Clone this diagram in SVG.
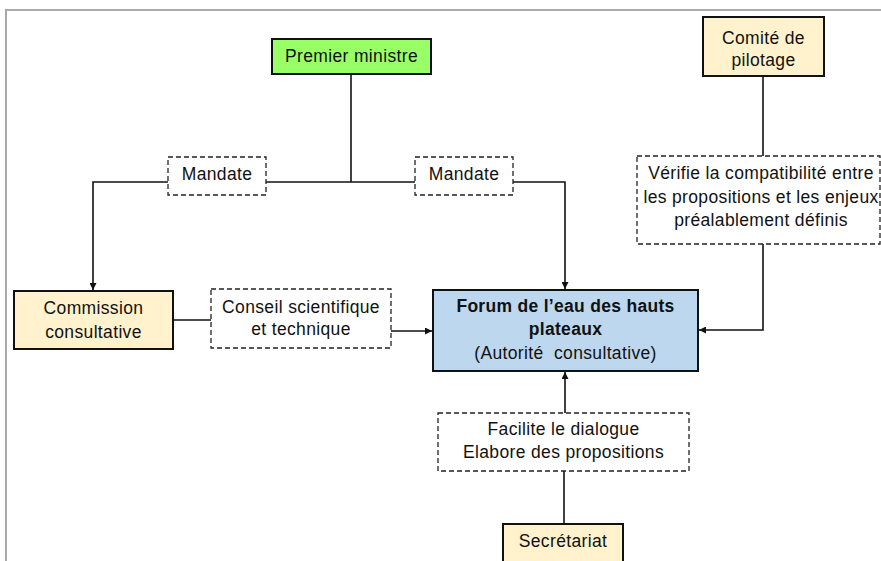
<svg xmlns="http://www.w3.org/2000/svg" width="881" height="561" viewBox="0 0 881 561">
  <style>
    text { font-family: "Liberation Sans", Arial, sans-serif; font-size: 17.5px; letter-spacing: 0.35px; fill: #111; text-anchor: middle; white-space: pre; }
    .bold { font-weight: bold; letter-spacing: 0.3px; }
    .box { stroke: #111; stroke-width: 2; }
    .green { fill: #99ff66; }
    .tan { fill: #fff2cc; }
    .blue { fill: #bdd7ee; }
    .label { fill: #fff; stroke: #222; stroke-width: 1.3; stroke-dasharray: 5 3; }
    .wire { fill: none; stroke: #111; stroke-width: 1.6; }
    .frame { fill: none; stroke: #aaa; stroke-width: 2; }
  </style>
  <defs>
    <marker id="arrow" viewBox="0 0 10 10" refX="10" refY="5" markerWidth="7" markerHeight="7" markerUnits="userSpaceOnUse" orient="auto">
      <path d="M0,0 L10,5 L0,10 z" fill="#111"/>
    </marker>
  </defs>

  <rect width="881" height="561" fill="#fff"/>
  <path class="frame" d="M6,561 V10 H881"/>

  <g id="connectors">
    <!-- Premier ministre down to the mandate split -->
    <path class="wire" d="M351,74 V182"/>
    <path class="wire" d="M266,182 H415"/>
    <path class="wire" d="M168,182 H93 V290" marker-end="url(#arrow)"/>
    <path class="wire" d="M513,182 H565 V289" marker-end="url(#arrow)"/>
    <!-- Commission to Forum via council label -->
    <path class="wire" d="M173,320 H211"/>
    <path class="wire" d="M391,331 H432" marker-end="url(#arrow)"/>
    <!-- Comité de pilotage to Forum -->
    <path class="wire" d="M763,76 V156"/>
    <path class="wire" d="M763,244 V330 H699" marker-end="url(#arrow)"/>
    <!-- Secrétariat to Forum -->
    <path class="wire" d="M564,524 V471"/>
    <path class="wire" d="M565,413 V372" marker-end="url(#arrow)"/>
  </g>

  <g id="premier-ministre">
    <rect class="box green" x="272" y="39" width="159" height="35"/>
    <text x="351.5" y="62">Premier ministre</text>
  </g>

  <g id="comite-pilotage">
    <rect class="box tan" x="703" y="17" width="121" height="59"/>
    <text x="763.5" y="44">Comité de</text>
    <text x="763.5" y="66">pilotage</text>
  </g>

  <g id="mandate-commission">
    <rect class="label" x="168" y="157" width="98" height="38"/>
    <text x="217" y="180">Mandate</text>
  </g>

  <g id="mandate-forum">
    <rect class="label" x="415" y="157" width="98" height="38"/>
    <text x="464" y="180">Mandate</text>
  </g>

  <g id="commission-consultative">
    <rect class="box tan" x="14" y="291" width="159" height="58"/>
    <text x="93.5" y="314">Commission</text>
    <text x="93.5" y="338">consultative</text>
  </g>

  <g id="conseil-scientifique">
    <rect class="label" x="211" y="289" width="180" height="59"/>
    <text x="301" y="313">Conseil scientifique</text>
    <text x="301" y="335">et technique</text>
  </g>

  <g id="forum">
    <rect class="box blue" x="433" y="290" width="265" height="81"/>
    <text class="bold" x="565.5" y="312">Forum de l’eau des hauts</text>
    <text class="bold" x="565.5" y="335">plateaux</text>
    <text x="565.5" y="359">(Autorité  consultative)</text>
  </g>

  <g id="verification">
    <rect class="label" x="637" y="156" width="243" height="88"/>
    <text x="761" y="179">Vérifie la compatibilité entre</text>
    <text x="761" y="203">les propositions et les enjeux</text>
    <text x="761" y="226">préalablement définis</text>
  </g>

  <g id="facilitation">
    <rect class="label" x="438" y="413" width="251" height="58"/>
    <text x="563.5" y="435">Facilite le dialogue</text>
    <text x="563.5" y="458">Elabore des propositions</text>
  </g>

  <g id="secretariat">
    <rect class="box tan" x="503" y="524" width="120" height="45"/>
    <text x="563" y="547">Secrétariat</text>
  </g>
</svg>
